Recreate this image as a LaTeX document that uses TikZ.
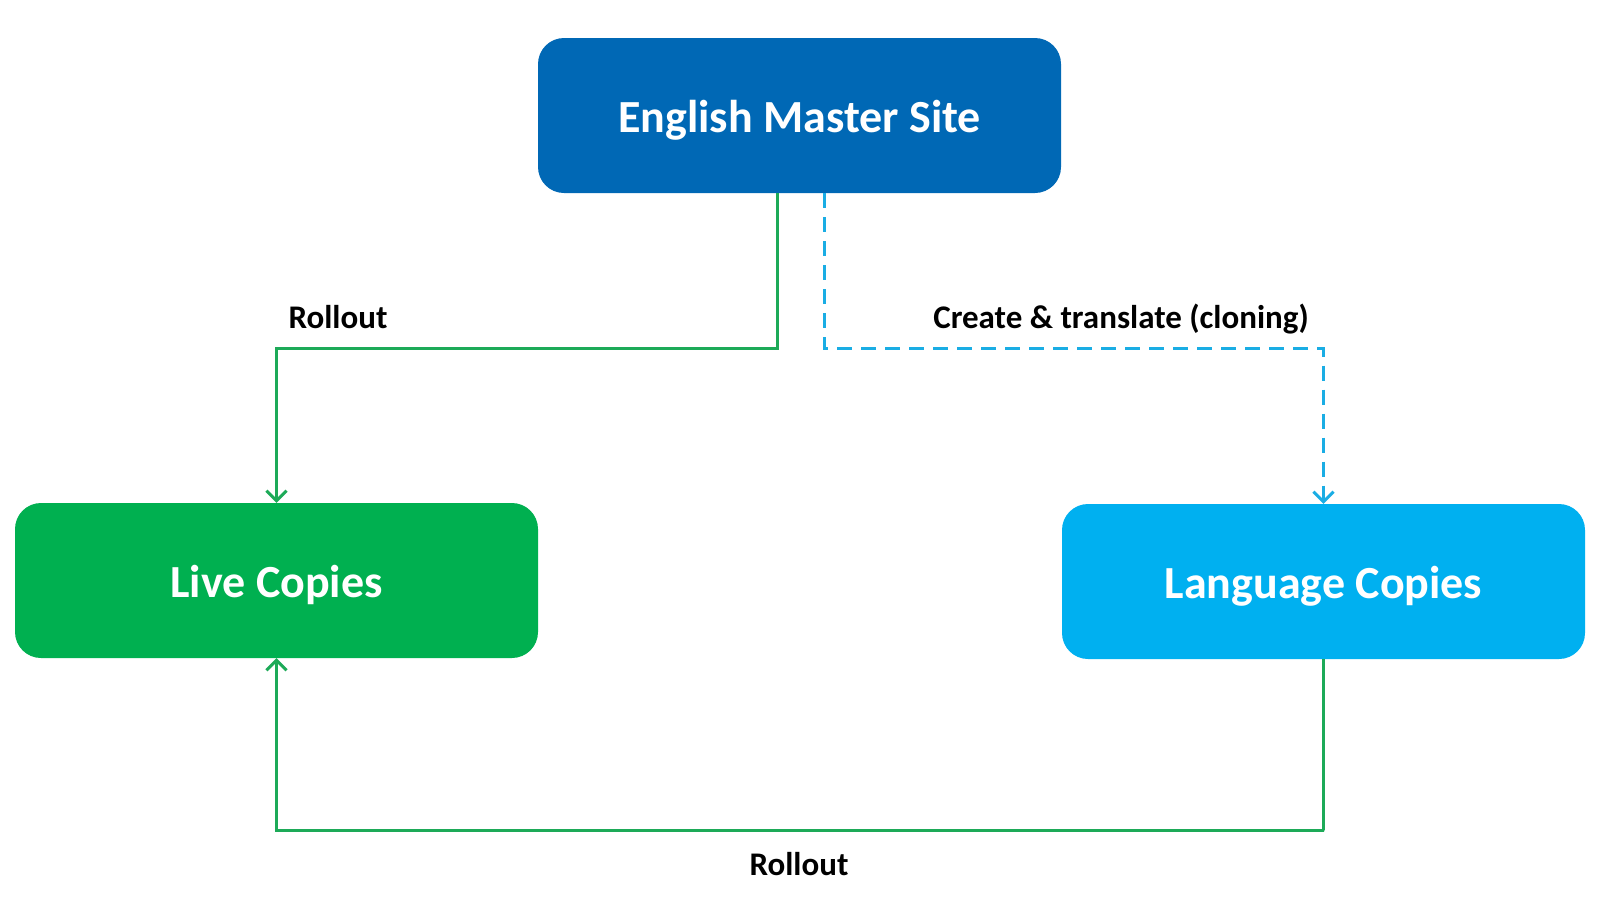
\documentclass[tikz,border=0pt]{standalone}
\usepackage{fontspec}
\setmainfont{Carlito}
\usetikzlibrary{arrows.meta}
\definecolor{masterblue}{HTML}{0068B5}
\definecolor{livegreen}{HTML}{00B050}
\definecolor{langblue}{HTML}{00B0F0}
\definecolor{linegreen}{HTML}{1DAA58}
\definecolor{lineblue}{HTML}{1AADE4}
\newcommand{\boxtext}[1]{\raisebox{-17pt}[0pt][0pt]{#1}}
\tikzset{
  boxstyle/.style={rounded corners=26pt, minimum width=523pt, minimum height=155pt,
    inner sep=0pt, text=white, font=\bfseries\fontsize{46}{50}\selectfont},
  lbl/.style={font=\bfseries\fontsize{33}{36}\selectfont, text=black, inner sep=0pt},
  greenline/.style={draw=linegreen, line width=3pt, -{Straight Barb[length=10pt,width=20pt,line width=3pt]}},
  blueline/.style={draw=lineblue, line width=3pt, dash pattern=on 15pt off 9pt, -{Straight Barb[length=10pt,width=20pt,line width=3pt]}}
}
\begin{document}
\begin{tikzpicture}[x=1pt,y=-1pt]
\useasboundingbox (0,0) rectangle (1600,900);
\node[boxstyle, fill=masterblue] (master) at (799.5,115.5) {\boxtext{English Master Site}};
\node[boxstyle, fill=livegreen] (live) at (276.5,580.5) {\boxtext{Live Copies}};
\node[boxstyle, fill=langblue] (lang) at (1323.5,581.5) {\boxtext{Language Copies}};
\coordinate (g1) at (777,348);
\coordinate (b1) at (824,348);
\coordinate (g2) at (1324,830);
\draw[greenline] (master.south -| g1) |- (g1) -| (live.north);
\draw[blueline] (master.south -| b1) |- (b1) -| (lang.north);
\draw[greenline] (lang.south) |- (g2) -| (live.south);
\node[lbl] (r1) at (338,317) {Rollout};
\node[lbl] (ct) at (1121,319) {Create \& translate (cloning)};
\node[lbl] (r2) at (799,864) {Rollout};
\end{tikzpicture}
\end{document}
